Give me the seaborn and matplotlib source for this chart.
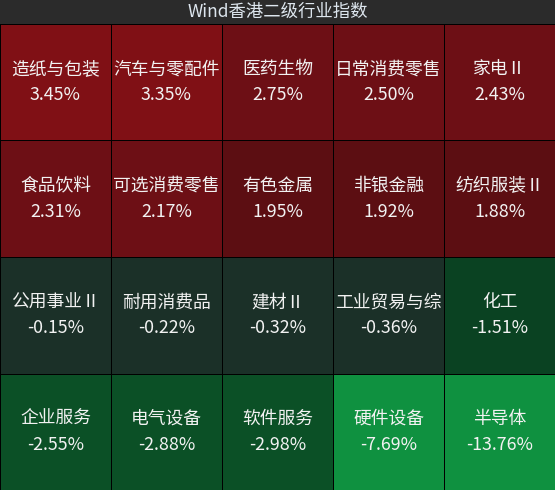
import matplotlib
matplotlib.use("Agg")
import matplotlib.pyplot as plt
from matplotlib.colors import ListedColormap, BoundaryNorm
import numpy as np
import seaborn as sns

TITLE = "Wind香港二级行业指数"

sectors = [
    ["造纸与包装", "汽车与零配件", "医药生物", "日常消费零售", "家电Ⅱ"],
    ["食品饮料", "可选消费零售", "有色金属", "非银金融", "纺织服装Ⅱ"],
    ["公用事业Ⅱ", "耐用消费品", "建材Ⅱ", "工业贸易与综", "化工"],
    ["企业服务", "电气设备", "软件服务", "硬件设备", "半导体"],
]
changes = [
    [3.45, 3.35, 2.75, 2.50, 2.43],
    [2.31, 2.17, 1.95, 1.92, 1.88],
    [-0.15, -0.22, -0.32, -0.36, -1.51],
    [-2.55, -2.88, -2.98, -7.69, -13.76],
]

# colour bands used by the terminal
bounds = [-20, -5, -2, -1, 0, 2, 3, 20]
band_colors = ["#0f9140", "#0b5026", "#0a4222", "#1b3028",
               "#5c0e12", "#6d0f15", "#801015"]

values = np.array(changes)
labels = np.array([[f"{n}\n{v:.2f}%" for n, v in zip(rn, rv)]
                   for rn, rv in zip(sectors, changes)])

fig = plt.figure(figsize=(5.55, 4.9), dpi=100, facecolor="#2b2b2b")
ax = fig.add_axes([0, 0, 1, 466 / 490])

sns.heatmap(
    values,
    ax=ax,
    cmap=ListedColormap(band_colors),
    norm=BoundaryNorm(bounds, len(band_colors)),
    annot=labels,
    fmt="",
    annot_kws={"fontsize": 12.8, "color": "#f2f2f2", "linespacing": 1.55,
               "family": ["Noto Sans CJK SC", "DejaVu Sans"]},
    cbar=False,
    linewidths=0.7,
    linecolor="black",
    xticklabels=False,
    yticklabels=False,
)
ax.set_xlabel("")
ax.set_ylabel("")

fig.text(0.5, 1 - 12 / 490, TITLE, ha="center", va="center",
         fontsize=12.5, color="#dde6ee",
         family=["Noto Sans CJK SC", "DejaVu Sans"])

fig.savefig("out.png", dpi=100, facecolor=fig.get_facecolor())
